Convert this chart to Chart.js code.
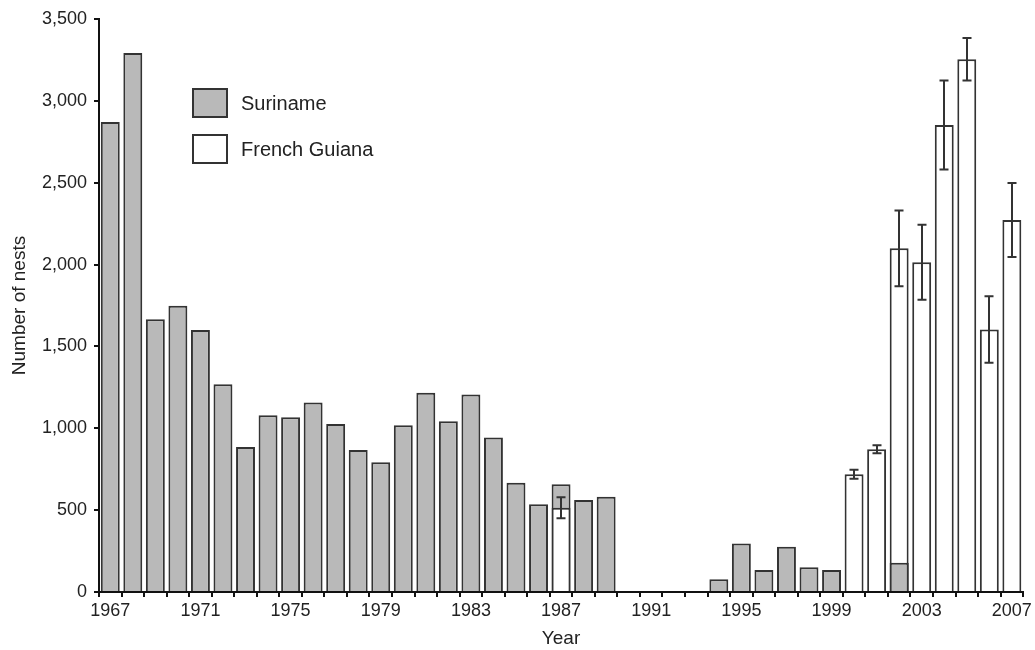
<!DOCTYPE html>
<html>
<head>
<meta charset="utf-8">
<script src="https://cdn.jsdelivr.net/npm/chart.js@4"></script>
<style>
  html, body { margin: 0; padding: 0; background: #fff; }
</style>
</head>
<body>
<canvas id="grafico" width="1035" height="650"></canvas>
<script>
// years 1967..2007
const years = [];
for (let y = 1967; y <= 2007; y++) years.push(String(y));

const suriname = [
  2871, 3292, 1666, 1749, 1600, 1269, 885, 1079, 1067, 1157,
  1026, 867, 792, 1018, 1217, 1043, 1207, 943, 668, 536,
  658, 562, 582, null, null, null, null, 78, 297, 134,
  277, 151, 134, null, null, 179, null, null, null, null, null
];

const frenchGuiana = [
  null, null, null, null, null, null, null, null, null, null,
  null, null, null, null, null, null, null, null, null, null,
  515, null, null, null, null, null, null, null, null, null,
  null, null, null, 719, 872, 2099, 2014, 2852, 3254, 1604, 2272
];

const fgError = [
  null, null, null, null, null, null, null, null, null, null,
  null, null, null, null, null, null, null, null, null, null,
  64, null, null, null, null, null, null, null, null, null,
  null, null, null, 27, 25, 232, 229, 272, 130, 203, 226
];

const yTicks = [0, 500, 1000, 1500, 2000, 2500, 3000, 3500];

// grey bars that sit in front of a taller white bar (2002)
const surinameFront = suriname.map((v, i) =>
  (v != null && frenchGuiana[i] != null && frenchGuiana[i] > v) ? v : null);

const grey = '#b9b9b9';
const edge = '#333333';
const txt = '#222222';
const fam = '"Liberation Sans", Arial, sans-serif';

const errorBars = {
  id: 'errorBars',
  afterDatasetsDraw(chart) {
    const meta = chart.getDatasetMeta(1);
    const ys = chart.scales.y;
    const ctx = chart.ctx;
    ctx.save();
    ctx.strokeStyle = edge;
    ctx.lineWidth = 2;
    meta.data.forEach((bar, i) => {
      const v = frenchGuiana[i], e = fgError[i];
      if (v == null || e == null) return;
      const top = ys.getPixelForValue(v + e);
      const bot = ys.getPixelForValue(v - e);
      const x = Math.round(bar.x);
      ctx.beginPath();
      ctx.moveTo(x, top); ctx.lineTo(x, bot);
      ctx.moveTo(x - 4.5, top); ctx.lineTo(x + 4.5, top);
      ctx.moveTo(x - 4.5, bot); ctx.lineTo(x + 4.5, bot);
      ctx.stroke();
    });
    ctx.restore();
  }
};

const boxLegend = {
  id: 'boxLegend',
  afterDraw(chart) {
    const ctx = chart.ctx;
    const a = chart.chartArea;
    const x = a.left + 94, y = a.top + 70;
    const items = [
      { label: 'Suriname', fill: grey },
      { label: 'French Guiana', fill: '#ffffff' }
    ];
    ctx.save();
    ctx.font = '20px ' + fam;
    ctx.textBaseline = 'middle';
    items.forEach((it, k) => {
      const by = y + k * 46;
      ctx.fillStyle = it.fill;
      ctx.fillRect(x, by, 34, 28);
      ctx.strokeStyle = edge;
      ctx.lineWidth = 2;
      ctx.strokeRect(x, by, 34, 28);
      ctx.fillStyle = txt;
      ctx.fillText(it.label, x + 48, by + 15);
    });
    ctx.restore();
  }
};

const ctx = document.getElementById('grafico').getContext('2d');
new Chart(ctx, {
  type: 'bar',
  data: {
    labels: years,
    datasets: [
      { label: 'Suriname', data: suriname, backgroundColor: grey, borderColor: edge, borderWidth: 2, order: 3 },
      { label: 'French Guiana', data: frenchGuiana, backgroundColor: '#ffffff', borderColor: edge, borderWidth: 2, order: 2 },
      { label: 'Suriname (front)', data: surinameFront, backgroundColor: grey, borderColor: edge, borderWidth: 2, order: 1 }
    ]
  },
  options: {
    responsive: false,
    animation: false,
    maintainAspectRatio: false,
    layout: { padding: { left: 0, top: 19, right: 10, bottom: 0 } },
    datasets: {
      bar: { grouped: false, categoryPercentage: 1, barPercentage: 0.84 }
    },
    plugins: {
      legend: { display: false },
      tooltip: { enabled: false }
    },
    scales: {
      x: {
        grid: { display: true, offset: true, drawOnChartArea: false, drawTicks: true, tickLength: 5, color: '#111', lineWidth: 2 },
        border: { display: true, color: '#111', width: 2 },
        ticks: {
          autoSkip: false, maxRotation: 0, padding: 3,
          color: txt,
          font: { family: fam, size: 18 },
          callback: (v, i) => (i % 4 === 0 ? years[i] : '')
        },
        title: {
          display: true, text: 'Year', color: txt, padding: { top: 0, bottom: 0 },
          font: { family: fam, size: 19 }
        },
        afterFit: (s) => { s.height = 58; }
      },
      y: {
        min: 0, max: 3500,
        afterBuildTicks: (s) => { s.ticks = yTicks.map(v => ({ value: v })); },
        grid: { display: true, drawOnChartArea: false, drawTicks: true, tickLength: 5, color: '#111', lineWidth: 2 },
        border: { display: true, color: '#111', width: 2 },
        ticks: {
          color: txt, padding: 7,
          font: { family: fam, size: 18 },
          callback: (v) => v.toLocaleString('en-US')
        },
        title: {
          display: true, text: 'Number of nests', color: txt, padding: { top: 8, bottom: 0 },
          font: { family: fam, size: 19 }
        },
        afterFit: (s) => { s.width = 99; }
      }
    }
  },
  plugins: [errorBars, boxLegend]
});
</script>
</body>
</html>
